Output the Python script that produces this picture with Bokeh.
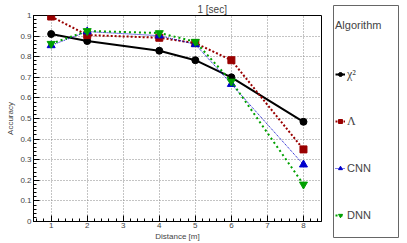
from bokeh.plotting import figure
from bokeh.layouts import row
from bokeh.models import Range1d, SingleIntervalTicker, Legend, LegendItem, ColumnDataSource
from bokeh.embed import file_html
from bokeh.resources import INLINE

distance = [1, 2, 4, 5, 6, 8]
chi2 = [0.91, 0.876, 0.829, 0.783, 0.70, 0.484]
lam = [0.995, 0.905, 0.892, 0.866, 0.783, 0.35]
cnn = [0.855, 0.922, 0.902, 0.86, 0.667, 0.276]
dnn = [0.863, 0.925, 0.915, 0.873, 0.68, 0.18]
labels = ["\u03c7\u00b2", "\u039b", "CNN", "DNN"]
legend_title = "Algorithm"
title_text = "1 [sec]"

FONT = "Liberation Sans"
SERIF = "Liberation Serif"

p = figure(width=328, height=243, output_backend="svg", toolbar_location=None,
           x_range=Range1d(0.51, 8.5), y_range=Range1d(0, 1),
           min_border_left=33, min_border_right=7, min_border_top=15, min_border_bottom=0)
p.frame_align = False
p.title.text = title_text
p.title.text_font = FONT
p.title.text_font_size = "10px"
p.title.text_font_style = "normal"
p.title.align = "left"
p.title.offset = 164
p.title.standoff = 1

p.xaxis.ticker = SingleIntervalTicker(interval=1, num_minor_ticks=5)
p.yaxis.ticker = SingleIntervalTicker(interval=0.1, num_minor_ticks=5)
for ax in (p.xaxis, p.yaxis):
    ax.major_tick_in = 6
    ax.major_tick_out = 0
    ax.minor_tick_in = 3
    ax.minor_tick_out = 0
    ax.major_label_text_font = FONT
    ax.major_label_text_font_size = "8px"
    ax.axis_label_text_font = FONT
    ax.axis_label_text_font_size = "8px"
    ax.axis_label_text_font_style = "normal"
    ax.major_label_standoff = 2
    ax.axis_label_standoff = 2
    ax.axis_line_color = "black"
p.xaxis.major_label_standoff = 1
p.xaxis.axis_label_standoff = 1
p.xaxis.axis_label = "Distance [m]"
p.yaxis.axis_label = "Accuracy"
p.yaxis.major_label_overrides = {0: "0", 1: "1"}

p.grid.grid_line_color = "#888888"
p.grid.grid_line_dash = "1 2"
p.grid.grid_line_width = 1
p.outline_line_color = "black"
p.outline_line_width = 1

series = [
    (chi2, "black", "solid", 2, "circle", 7),
    (lam, "#990000", "2 2", 2, "square", 7),
    (cnn, "#0000cc", "1 1", 1, "triangle", 8),
    (dnn, "#00a000", "2 3", 2, "inverted_triangle", 8),
]

# legend panel as its own small figure; its frame outline is the legend box.
# Its x range excludes the data, so only the legend samples of the series show.
lg = figure(width=79, height=243, output_backend="svg", toolbar_location=None,
            x_range=Range1d(-1, 0), y_range=Range1d(0, 1),
            x_axis_type=None, y_axis_type=None,
            min_border_left=5, min_border_right=9, min_border_top=5, min_border_bottom=6)
lg.frame_align = False
lg.outline_line_color = "#666666"
lg.outline_line_width = 1

items = []
for (vals, col, dash, lw, mk, sz), lab in zip(series, labels):
    src = ColumnDataSource(dict(x=distance, y=vals))
    p.line("x", "y", source=src, line_color=col, line_dash=dash, line_width=lw)
    p.scatter("x", "y", source=src, marker=mk, size=sz, fill_color=col, line_color=col)
    lr = lg.line("x", "y", source=src, line_color=col, line_dash=dash, line_width=lw)
    sr = lg.scatter("x", "y", source=src, marker=mk, size=sz - 1, fill_color=col, line_color=col)
    items.append(LegendItem(label=lab, renderers=[lr, sr]))


def make_legend(its, font, size, loc, title=None):
    lgd = Legend(items=its)
    if title is not None:
        lgd.title = title
        lgd.title_text_font = FONT
        lgd.title_text_font_size = "11px"
        lgd.title_text_font_style = "normal"
        lgd.title_standoff = 33
    lgd.label_text_font = font
    lgd.label_text_font_size = size
    lgd.padding = 0
    lgd.spacing = 27
    lgd.glyph_width = 10
    lgd.glyph_height = 20
    lgd.label_height = 20
    lgd.label_standoff = 2
    lgd.margin = 0
    lgd.border_line_color = None
    lgd.background_fill_alpha = 0
    lgd.location = loc
    return lgd


lg.add_layout(make_legend(items[:2], SERIF, "12px", (2, 106), legend_title), "center")
lg.add_layout(make_legend(items[2:], FONT, "11px", (2, 12)), "center")

open("out.html", "w").write(file_html(row(p, lg), INLINE))
